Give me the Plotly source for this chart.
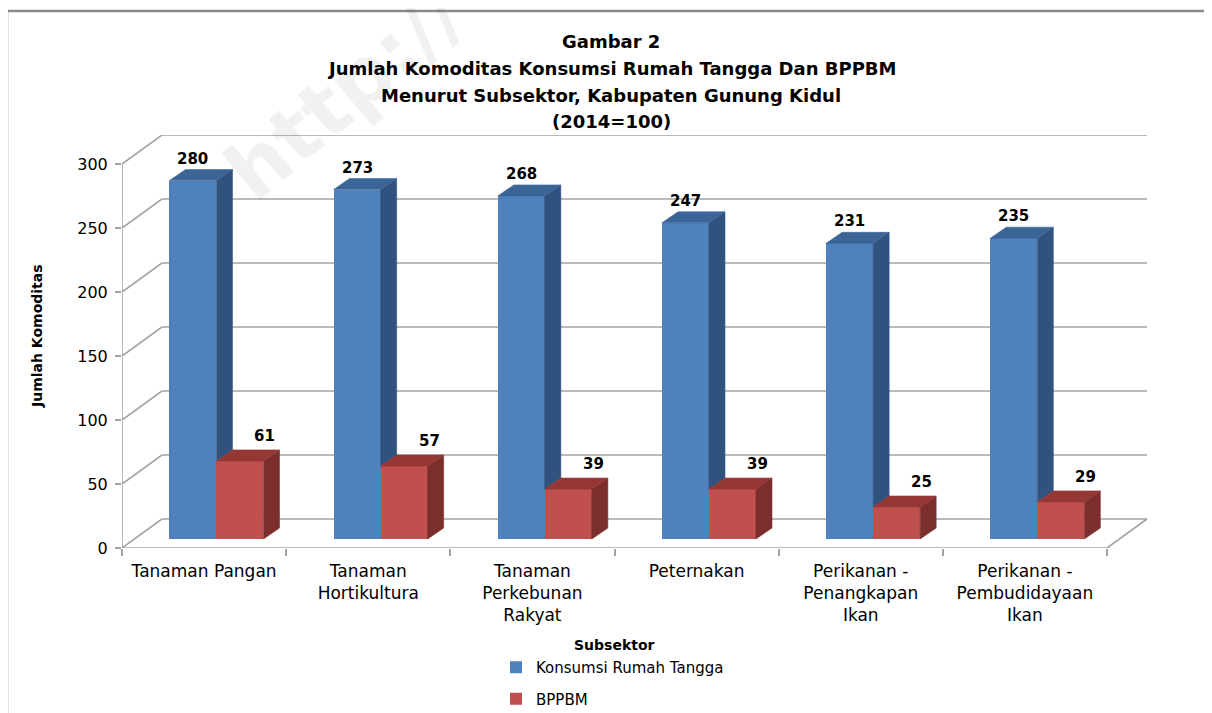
import plotly.graph_objects as go

# ---------------- data ----------------
categories = ["Tanaman Pangan", "Tanaman<br>Hortikultura", "Tanaman<br>Perkebunan<br>Rakyat",
              "Peternakan", "Perikanan -<br>Penangkapan<br>Ikan", "Perikanan -<br>Pembudidayaan<br>Ikan"]
konsumsi = [280, 273, 268, 247, 231, 235]
bppbm = [61, 57, 39, 39, 25, 29]
series_names = ["Konsumsi Rumah Tangga", "BPPBM"]
y_ticks = [0, 50, 100, 150, 200, 250, 300]
title_lines = ["Gambar 2", "Jumlah Komoditas Konsumsi Rumah Tangga Dan BPPBM",
               "Menurut Subsektor, Kabupaten Gunung Kidul", "(2014=100)"]
x_title = "Subsektor"
y_title = "Jumlah Komoditas"

# ---------------- geometry / style ----------------
W, H = 1212, 713
OFF = 8                                   # page body margin of the browser
L, R, B, T = 122, 1148, 548, 135          # plot area in px (window coordinates)
N = len(categories)
cat_px = (1107 - L) / N                   # px per category
xmax = (R - L) / cat_px
ypx = 1.28                                # px per value unit
ymax = (B - T) / ypx
# oblique offsets (in data units)
dxw, dyw = 40 / cat_px, 29 / ypx          # back wall
dxb, dyb = 12.4 / cat_px, 9 / ypx         # bar plane
dxd, dyd = 16 / cat_px, 11 / ypx          # bar depth
bw = 47 / cat_px                          # bar width

FONT = "DejaVu Sans"
GRID = "#A3A3A3"
BLUE = ["#4F81BD", "#3B6597", "#30527F"]  # front, top, side
RED = ["#C0504D", "#943735", "#7B2E2C"]

def px2paper_x(p):
    return (p - L) / (R - L)

def px2paper_y(p):
    return (B - p) / (B - T)

fig = go.Figure()

centers = [i + 0.5 + dxb for i in range(N)]

# front faces (bars)
fig.add_trace(go.Bar(x=centers, y=konsumsi, base=dyb, width=bw, offset=-bw,
                     marker=dict(color=BLUE[0], line=dict(width=0)),
                     name=series_names[0], legendgroup="a", hoverinfo="y"))
fig.add_trace(go.Bar(x=centers, y=bppbm, base=dyb, width=bw, offset=0,
                     marker=dict(color=RED[0], line=dict(width=0)),
                     name=series_names[1], legendgroup="b", hoverinfo="y"))

def poly_trace(xs, ys, color):
    return go.Scatter(x=xs, y=ys, mode="lines", fill="toself", fillcolor=color,
                      line=dict(color=color, width=0.6), showlegend=False, hoverinfo="skip")

# blue tops & sides
tx, ty, sx, sy = [], [], [], []
for c, v, r in zip(centers, konsumsi, bppbm):
    x0, x1 = c - bw, c
    top = dyb + v
    tx += [x0, x1, x1 + dxd, x0 + dxd, x0, None]
    ty += [top, top, top + dyd, top + dyd, top, None]
    lo = dyb + r
    sx += [x1, x1 + dxd, x1 + dxd, x1, x1, None]
    sy += [lo, lo + dyd, top + dyd, top, lo, None]
fig.add_trace(poly_trace(sx, sy, BLUE[2]))
fig.add_trace(poly_trace(tx, ty, BLUE[1]))

# red tops & sides
tx, ty, sx, sy = [], [], [], []
for c, v in zip(centers, bppbm):
    x0, x1 = c, c + bw
    top = dyb + v
    tx += [x0, x1, x1 + dxd, x0 + dxd, x0, None]
    ty += [top, top, top + dyd, top + dyd, top, None]
    sx += [x1, x1 + dxd, x1 + dxd, x1, x1, None]
    sy += [dyb, dyb + dyd, top + dyd, top, dyb, None]
fig.add_trace(poly_trace(sx, sy, RED[2]))
fig.add_trace(poly_trace(tx, ty, RED[1]))

# overlay axis for category boundary ticks
fig.add_trace(go.Scatter(x=[0], y=[None], xaxis="x2", showlegend=False, hoverinfo="skip"))

shapes = []
def line(x0, y0, x1, y1):
    shapes.append(dict(type="line", xref="x", yref="y", x0=x0, y0=y0, x1=x1, y1=y1,
                       line=dict(color=GRID, width=1.6), layer="below"))

for t in y_ticks:
    line(dxw, t + dyw, N + dxw, t + dyw)      # back wall grid
    line(0, t, dxw, t + dyw)                  # side wall diagonals
line(0, 0, N, 0)                              # floor front edge
line(N, 0, N + dxw, dyw)                      # floor right edge
line(0, 0, 0, y_ticks[-1])                    # front vertical axis

# outer frame
shapes.append(dict(type="line", xref="paper", yref="paper",
                   x0=px2paper_x(7), y0=px2paper_y(11), x1=px2paper_x(1230), y1=px2paper_y(11),
                   line=dict(color="#8A8A8A", width=2.5)))
shapes.append(dict(type="line", xref="paper", yref="paper",
                   x0=px2paper_x(7), y0=px2paper_y(11), x1=px2paper_x(7), y1=px2paper_y(730),
                   line=dict(color="#8A8A8A", width=2.5)))

annotations = []
# watermark
annotations.append(dict(text="http://", xref="paper", yref="paper",
                        x=px2paper_x(345), y=px2paper_y(92), showarrow=False, textangle=-40,
                        xanchor="center", yanchor="middle",
                        font=dict(family=FONT, size=80, color="rgba(0,0,0,0.055)", weight="bold")))
# title
title_y = [41, 68, 95, 122]
for txt, py in zip(title_lines, title_y):
    annotations.append(dict(text=f"<b>{txt}</b>", xref="paper", yref="paper",
                            x=px2paper_x(611), y=px2paper_y(py), showarrow=False,
                            xanchor="center", yanchor="middle",
                            font=dict(family=FONT, size=18, color="black")))
# data labels
for c, v in zip(centers, konsumsi):
    annotations.append(dict(text=f"<b>{v}</b>", x=c - bw / 2, y=dyb + v + dyd, xref="x", yref="y",
                            showarrow=False, xanchor="center", yanchor="bottom", yshift=0,
                            font=dict(family=FONT, size=15, color="black")))
for c, v in zip(centers, bppbm):
    annotations.append(dict(text=f"<b>{v}</b>", x=c + bw / 2, y=dyb + v + dyd, xref="x", yref="y",
                            showarrow=False, xanchor="center", yanchor="bottom", yshift=3, xshift=25,
                            font=dict(family=FONT, size=15, color="black")))
# axis titles
annotations.append(dict(text=f"<b>{x_title}</b>", xref="x", yref="paper", x=N / 2,
                        y=px2paper_y(645), showarrow=False, xanchor="center", yanchor="middle",
                        font=dict(family=FONT, size=14, color="black")))
annotations.append(dict(text=f"<b>{y_title}</b>", xref="paper", yref="paper",
                        x=px2paper_x(37), y=px2paper_y(336), showarrow=False, textangle=-90,
                        xanchor="center", yanchor="middle",
                        font=dict(family=FONT, size=14, color="black")))

fig.update_layout(
    width=W - OFF, height=H - OFF,
    margin=dict(l=L - OFF, r=W - R, t=T - OFF, b=H - B, autoexpand=False),
    paper_bgcolor="white", plot_bgcolor="rgba(0,0,0,0)",
    barmode="overlay", bargap=0,
    showlegend=True,
    legend=dict(x=px2paper_x(496), y=px2paper_y(651), xanchor="left", yanchor="top",
                orientation="v", tracegroupgap=9, bgcolor="rgba(0,0,0,0)",
                itemwidth=30,
                font=dict(family=FONT, size=15, color="black"), itemclick=False),
    xaxis=dict(range=[0, xmax], tickvals=[i + 0.5 for i in range(N)], ticktext=categories,
               ticks="", showgrid=False, zeroline=False, showline=False,
               tickfont=dict(family=FONT, size=17, color="black"), ticklabelstandoff=11,
               fixedrange=True),
    xaxis2=dict(range=[0, xmax], overlaying="x", anchor="y", side="bottom",
                tickvals=list(range(N + 1)), ticks="outside", ticklen=7, tickcolor=GRID,
                tickwidth=1.5, showticklabels=False, showgrid=False, zeroline=False,
                showline=False, fixedrange=True),
    yaxis=dict(range=[0, ymax], tickvals=y_ticks, ticks="outside", ticklen=6, tickcolor=GRID,
               tickwidth=1.5, showgrid=False, zeroline=False, showline=False,
               tickfont=dict(family=FONT, size=16, color="black"), ticklabelstandoff=4,
               fixedrange=True),
    shapes=shapes,
    annotations=annotations,
)

fig.write_html("out.html")
